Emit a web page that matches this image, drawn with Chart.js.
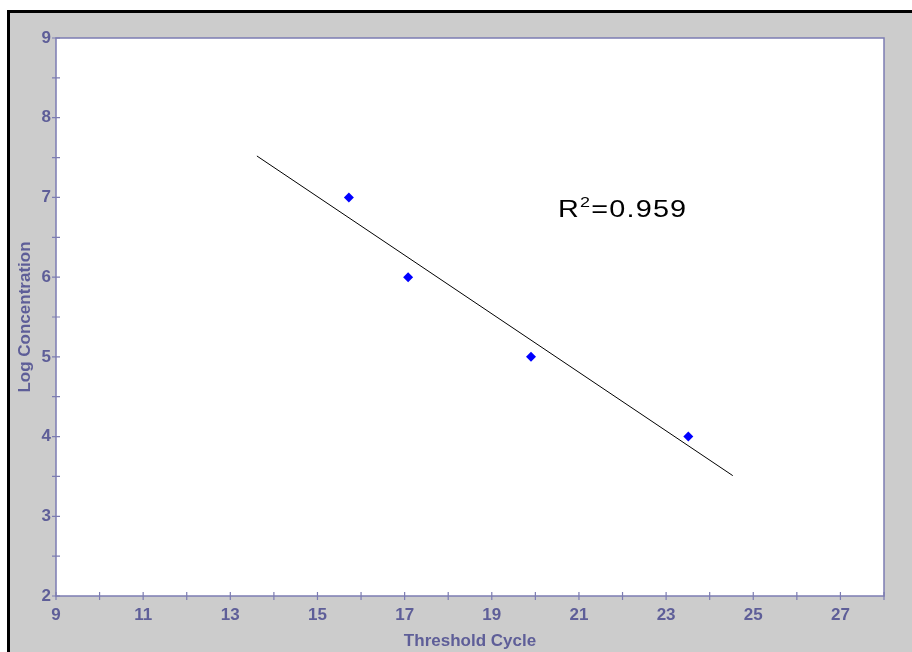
<!DOCTYPE html>
<html>
<head>
<meta charset="utf-8">
<script src="https://cdn.jsdelivr.net/npm/chart.js@4"></script>
<style>
  body { margin: 0; background: #fff; }
  #panel { position: absolute; left: 7px; top: 10px; width: 1000px; height: 1000px;
           border: 3px solid #000; background: #cccccc; }
  #chart { position: absolute; left: 0; top: 0; }
  #r2 { position: absolute; left: 558px; top: 197px; font: 24px "Liberation Sans", Arial, sans-serif;
        line-height: 24px; letter-spacing: 1px; color: #000; transform: scaleX(1.2);
        transform-origin: left top; white-space: nowrap; }
  #r2 span { font-size: 15px; position: relative; top: -10px; }
</style>
</head>
<body>
<div id="panel"></div>
<canvas id="chart" width="912" height="652"></canvas>
<div id="r2">R<span>2</span>=0.959</div>
<script>
const cycles = [15.72, 17.08, 19.9, 23.51];
const logConc = [7, 6, 5, 4];
const fitX = [13.61, 24.53];
const fitY = [7.52, 3.51];
const xRange = [9, 28];
const yRange = [2, 9];

const axisColor = "#7c7cb2";
const textColor = "#5e5e98";
const font = { family: "'Liberation Sans', Arial, sans-serif", size: 17, weight: "bold" };

// white plot area, frame and ticks that cross the axis lines
const frame = {
  id: "frame",
  beforeDraw(chart) {
    const a = chart.chartArea, ctx = chart.ctx;
    ctx.save();
    ctx.fillStyle = "#fff";
    ctx.fillRect(a.left, a.top, a.right - a.left, a.bottom - a.top);
    ctx.restore();
  },
  afterDraw(chart) {
    const a = chart.chartArea, ctx = chart.ctx;
    const xs = chart.scales.x, ys = chart.scales.y;
    ctx.save();
    ctx.strokeStyle = axisColor;
    ctx.lineWidth = 1.5;
    ctx.strokeRect(a.left, a.top, a.right - a.left, a.bottom - a.top);
    ctx.lineWidth = 1.2;
    ctx.beginPath();
    xs.ticks.forEach(t => {
      const px = xs.getPixelForValue(t.value);
      ctx.moveTo(px, a.bottom - 4);
      ctx.lineTo(px, a.bottom + 4);
    });
    ys.ticks.forEach(t => {
      const py = ys.getPixelForValue(t.value);
      ctx.moveTo(a.left - 4, py);
      ctx.lineTo(a.left + 4, py);
    });
    ctx.stroke();
    ctx.restore();
  }
};

new Chart(document.getElementById("chart"), {
  type: "scatter",
  data: {
    datasets: [
      {
        data: cycles.map((c, i) => ({ x: c, y: logConc[i] })),
        pointStyle: "rectRot",
        pointRadius: 5,
        backgroundColor: "#0000ff",
        borderColor: "#0000ff",
        borderWidth: 0
      },
      {
        type: "line",
        data: fitX.map((c, i) => ({ x: c, y: fitY[i] })),
        borderColor: "#000",
        borderWidth: 1,
        pointRadius: 0
      }
    ]
  },
  plugins: [frame],
  options: {
    responsive: false,
    animation: false,
    layout: { padding: { left: 0, top: 38, right: 28, bottom: 0 } },
    plugins: { legend: { display: false }, tooltip: { enabled: false } },
    scales: {
      x: {
        type: "linear",
        min: xRange[0], max: xRange[1],
        afterFit: s => { s.height = 56; },
        grid: { display: false, drawTicks: false },
        border: { display: false },
        ticks: {
          stepSize: 1, autoSkip: false, maxRotation: 0, padding: 9,
          color: textColor, font: font,
          callback: v => (v % 2 === 1 && v < 28) ? String(v) : ""
        },
        title: { display: true, text: "Threshold Cycle", color: textColor, font: font, padding: 0 }
      },
      y: {
        min: yRange[0], max: yRange[1],
        afterFit: s => { s.width = 56; },
        grid: { display: false, drawTicks: false },
        border: { display: false },
        ticks: {
          stepSize: 0.5, autoSkip: false, padding: 5,
          color: textColor, font: font,
          callback: v => Number.isInteger(v) ? String(v) : ""
        },
        title: { display: true, text: "Log Concentration", color: textColor, font: font,
                 padding: { top: 15, bottom: 0 } }
      }
    }
  }
});
</script>
</body>
</html>
